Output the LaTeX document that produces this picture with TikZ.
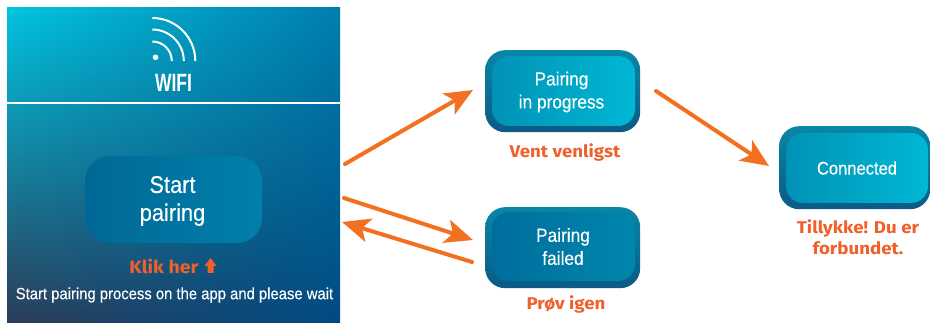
\documentclass[tikz,border=0pt]{standalone}
\usepackage{fontspec}
\usetikzlibrary{arrows.meta,shadings}
\newfontfamily\hfont[FakeStretch=0.91,FakeBold=0.15]{Liberation Sans}
\newfontfamily\wfont[FakeStretch=0.70]{Liberation Sans}
\newfontfamily\ofont[FakeStretch=1.1]{Fira Sans}
\definecolor{orgA}{HTML}{F37021}
\definecolor{orgT}{HTML}{F15F2B}
\definecolor{top1}{HTML}{0A86A6}
\definecolor{bot1}{HTML}{0B5A86}
\definecolor{panUL}{RGB}{0,196,224}
\definecolor{panUR}{RGB}{0,126,172}
\definecolor{panLL}{RGB}{44,60,88}
\definecolor{panLR}{RGB}{0,74,130}
\definecolor{startL}{RGB}{0,104,150}
\definecolor{startR}{RGB}{0,128,170}
\definecolor{progL}{RGB}{0,146,182}
\definecolor{progR}{RGB}{0,184,212}
\definecolor{failL}{RGB}{0,110,156}
\definecolor{failR}{RGB}{0,134,174}
\tikzset{
  outerbox/.style={rounded corners=20pt,minimum width=#1,anchor=north west,inner sep=0pt,
    top color=top1,bottom color=bot1},
  innerbox/.style={rounded corners=17pt,inner sep=0pt},
  boxtext/.style={text=white,font=\hfont\fontsize{19}{23}\selectfont,align=center},
  note/.style={text=orgT,font=\ofont\bfseries\fontsize{17}{22}\selectfont,align=center},
  flow/.style={draw=orgA,line width=4pt,line cap=round,-{Stealth[length=28pt,width=24pt,inset=7pt]}},
  wave/.style={draw=white,line width=2pt},
}
\begin{document}
\begin{tikzpicture}[x=1pt,y=-1pt]
\useasboundingbox (0,0) rectangle (930,323);
\fill[white] (0,0) rectangle (930,323);
% panel
\shade[shading=bilinear interpolation,upper left=panUL,upper right=panUR,
       lower left=panLL,lower right=panLR] (7,8) rectangle (340,323);
\draw[white,line width=1.2pt] (7,103) -- (340,103);
% wifi
\fill[white] (155.5,57.3) circle (2.8);
\draw[wave] (152.3,41.5) arc[start angle=-90,end angle=0,radius=19.5];
\draw[wave] (152.3,29.5) arc[start angle=-90,end angle=0,radius=31.5];
\draw[wave] (152.3,18) arc[start angle=-90,end angle=0,radius=43];
\node[text=white,font=\wfont\bfseries\fontsize{25}{25}\selectfont] (wifi) at (173.5,83) {WIFI};
% start button
\node[rounded corners=25pt,minimum width=177pt,minimum height=87pt,inner sep=0pt,
  left color=startL,right color=startR] (start) at (173.5,199.5) {};
\node[text=white,font=\hfont\fontsize{24}{28}\selectfont,align=center] (startT) at (172.5,201) {Start\\pairing};
\node[text=orgT,font=\ofont\bfseries\fontsize{17.8}{20}\selectfont] (klik) at (164,266) {Klik her};
\fill[orgT] (210.5,258) -- (216.5,266) -- (213.5,266) -- (213.5,273) -- (207.5,273) -- (207.5,266) -- (204.5,266) -- cycle;
\node[text=white,font=\hfont\fontsize{16.3}{20}\selectfont] (hint) at (174.5,295) {Start pairing process on the app and please wait};
% in progress
\node[outerbox=155pt,minimum height=82pt] (progO) at (485,50) {};
\node[innerbox,minimum width=143pt,minimum height=70pt,left color=progL,right color=progR] (prog) at (563.5,91) {};
\node[boxtext] (progT) at (561.5,92) {Pairing\\in progress};
\node[note] (vent) at (565,152) {Vent venligst};
% failed
\node[outerbox=155pt,minimum height=81pt] (failO) at (485,207) {};
\node[innerbox,minimum width=143pt,minimum height=69pt,left color=failL,right color=failR] (fail) at (563.5,246.5) {};
\node[boxtext] (failT) at (563,246.5) {Pairing\\failed};
\node[note] (prov) at (566,304) {Prøv igen};
% connected
\node[outerbox=151pt,minimum height=83pt] (connO) at (779,126) {};
\node[innerbox,minimum width=142pt,minimum height=70pt,left color=progL,right color=progR] (conn) at (857,168) {};
\node[boxtext,font=\hfont\fontsize{18.2}{23}\selectfont] (connT) at (857,168) {Connected};
\node[note,font=\ofont\bfseries\fontsize{17}{21}\selectfont] (tilly) at (858,237.5) {Tillykke! Du er\\forbundet.};
% connectors
\coordinate (a1) at (345,164); \coordinate (a2) at (473,90);
\coordinate (b1) at (344,198); \coordinate (b2) at (473,240);
\coordinate (c1) at (472,262); \coordinate (c2) at (342,222);
\coordinate (d1) at (656,91);  \coordinate (d2) at (769,166);
\draw[flow] (a1) -- (a2);
\draw[flow] (b1) -- (b2);
\draw[flow] (c1) -- (c2);
\draw[flow] (d1) -- (d2);
\end{tikzpicture}
\end{document}
